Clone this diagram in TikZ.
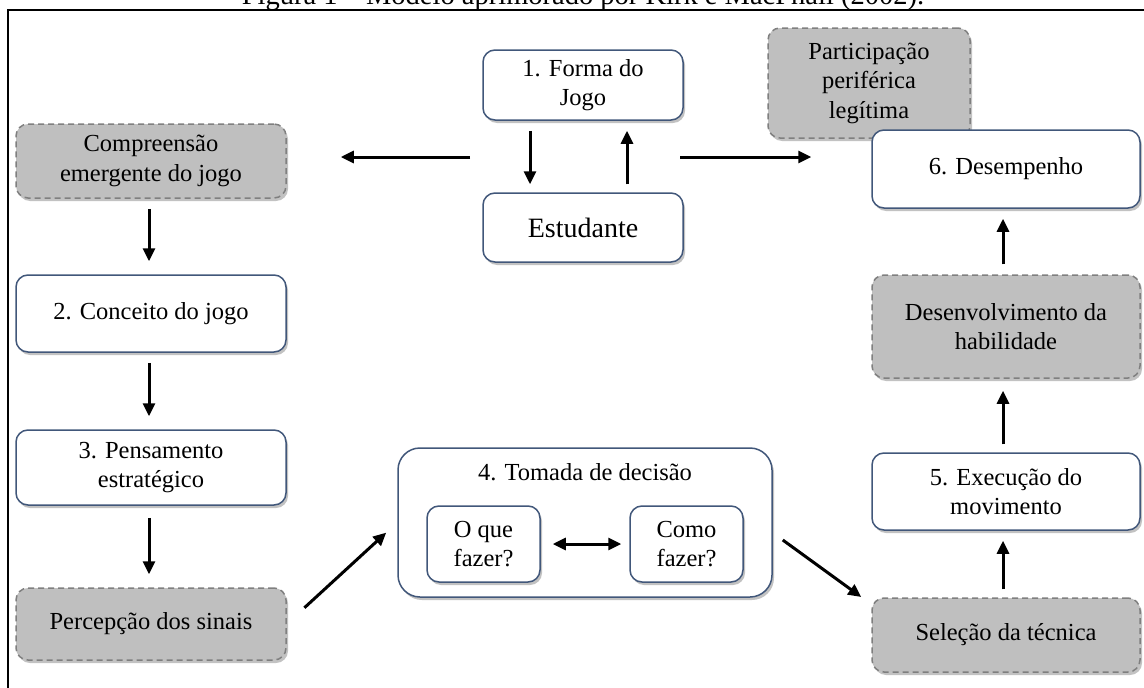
\documentclass[tikz,border=0pt]{standalone}
\usepackage{fontspec}
\setmainfont{Liberation Serif}
\usetikzlibrary{shadows,arrows.meta}
\definecolor{bordc}{HTML}{41577A}
\definecolor{grayfill}{HTML}{BFBFBF}
\definecolor{graydash}{HTML}{7F7F7F}
\tikzset{
  basebox/.style={rectangle, rounded corners=12pt, align=center, inner sep=2pt,
    font=\fontsize{24.5}{29.5}\selectfont, line width=1.5pt,
    drop shadow={shadow xshift=2pt, shadow yshift=-3pt, opacity=0.4, fill=black!60}},
  wbox/.style={basebox, draw=bordc, fill=white},
  gbox/.style={basebox, draw=graydash, fill=grayfill, dash pattern=on 6pt off 4pt},
  arr/.style={line width=3pt, -{Triangle[length=13pt,width=12pt]}},
  darr/.style={line width=3pt, {Triangle[length=13pt,width=12pt]}-{Triangle[length=13pt,width=12pt]}},
  lbl/.style={font=\fontsize{24.5}{29.5}\selectfont, align=center}
}
\begin{document}
\begin{tikzpicture}[x=1pt,y=-1pt]
\useasboundingbox (0,0) rectangle (1144,688);
\begin{scope}
  \clip (0,0) rectangle (1144,688);
  \node[anchor=base, font=\fontsize{28.5}{32}\selectfont, inner sep=0pt] (cap) at (583,5) {Figura 1 – Modelo aprimorado por Kirk e MacPhail (2002).};
  \draw[line width=2.6pt] (8,10) rectangle (1170,720);
\end{scope}

% left column
\node[gbox, minimum width=270pt, minimum height=74pt] (comp) at (151,161) {Compreensão\\emergente do jogo};
\node[wbox, minimum width=270pt, minimum height=77pt] (conc) at (151,313.5) {2. Conceito do jogo};
\node[wbox, minimum width=270pt, minimum height=75pt] (pens) at (151,467.5) {3. Pensamento\\estratégico};
\node[gbox, minimum width=270pt, minimum height=72pt] (perc) at (151,624) {Percepção dos sinais};

% top centre
\node[wbox, minimum width=200pt, minimum height=70pt] (forma) at (583,85) {1. Forma do\\Jogo};
\node[wbox, minimum width=200pt, minimum height=69pt, font=\fontsize{28}{32}\selectfont] (estud) at (583,227.5) {Estudante};

% right column
\node[gbox, minimum width=202pt, minimum height=110pt] (part) at (869,83) {Participação\\periférica\\legítima};
\node[wbox, minimum width=268pt, minimum height=78pt] (desemp) at (1006,169) {6. Desempenho};
\node[gbox, minimum width=268pt, minimum height=103pt] (desenv) at (1006,326.5) {Desenvolvimento da\\habilidade};
\node[wbox, minimum width=268pt, minimum height=77pt] (exec) at (1006,491.5) {5. Execução do\\movimento};
\node[gbox, minimum width=268pt, minimum height=74pt] (selec) at (1006,635) {Seleção da técnica};

% decision
\node[wbox, rounded corners=22pt, minimum width=374pt, minimum height=149pt] (toma) at (585,522.5) {};
\node[lbl] (tomat) at (585,472) {4. Tomada de decisão};
\node[wbox, minimum width=113pt, minimum height=76pt] (oque) at (483.5,544) {O que\\fazer?};
\node[wbox, minimum width=113pt, minimum height=76pt] (como) at (686.5,544) {Como\\fazer?};

% hub coordinates
\coordinate (hubL) at (470,157);
\coordinate (hubR) at (680,157);

% connectors
\draw[arr, shorten <=10pt, shorten >=13pt] ([xshift=-2pt]comp.south) -- ([xshift=-2pt]conc.north);
\draw[arr, shorten <=10pt, shorten >=13pt] ([xshift=-2pt]conc.south) -- ([xshift=-2pt]pens.north);
\draw[arr, shorten <=12pt, shorten >=13pt] ([xshift=-2pt]pens.south) -- ([xshift=-2pt]perc.north);
\draw[arr, shorten <=24pt, shorten >=15pt] (perc.east) -- (toma.west);
\draw[arr] ([shift={(10,17.5)}]toma.east) -- ([shift={(-10,-38)}]selec.west);
\draw[arr, shorten <=8pt, shorten >=10pt] ([xshift=-3pt]selec.north) -- ([xshift=-3pt]exec.south);
\draw[arr, shorten <=8pt, shorten >=12pt] ([xshift=-3pt]exec.north) -- ([xshift=-3pt]desenv.south);
\draw[arr, shorten <=10pt, shorten >=10pt] ([xshift=-3pt]desenv.north) -- ([xshift=-3pt]desemp.south);
\draw[arr, shorten <=10pt, shorten >=8pt] ([xshift=-53pt]forma.south) -- ([xshift=-53pt]estud.north);
\draw[arr, shorten <=8pt, shorten >=10pt] ([xshift=44pt]estud.north) -- ([xshift=44pt]forma.south);
\draw[arr] (hubL) -- ([xshift=54pt]comp.east |- hubL);
\draw[arr] (hubR) -- ([xshift=-60pt]desemp.west |- hubR);
\draw[darr, shorten <=12pt, shorten >=8pt] (oque.east) -- (como.west);
\end{tikzpicture}
\end{document}
